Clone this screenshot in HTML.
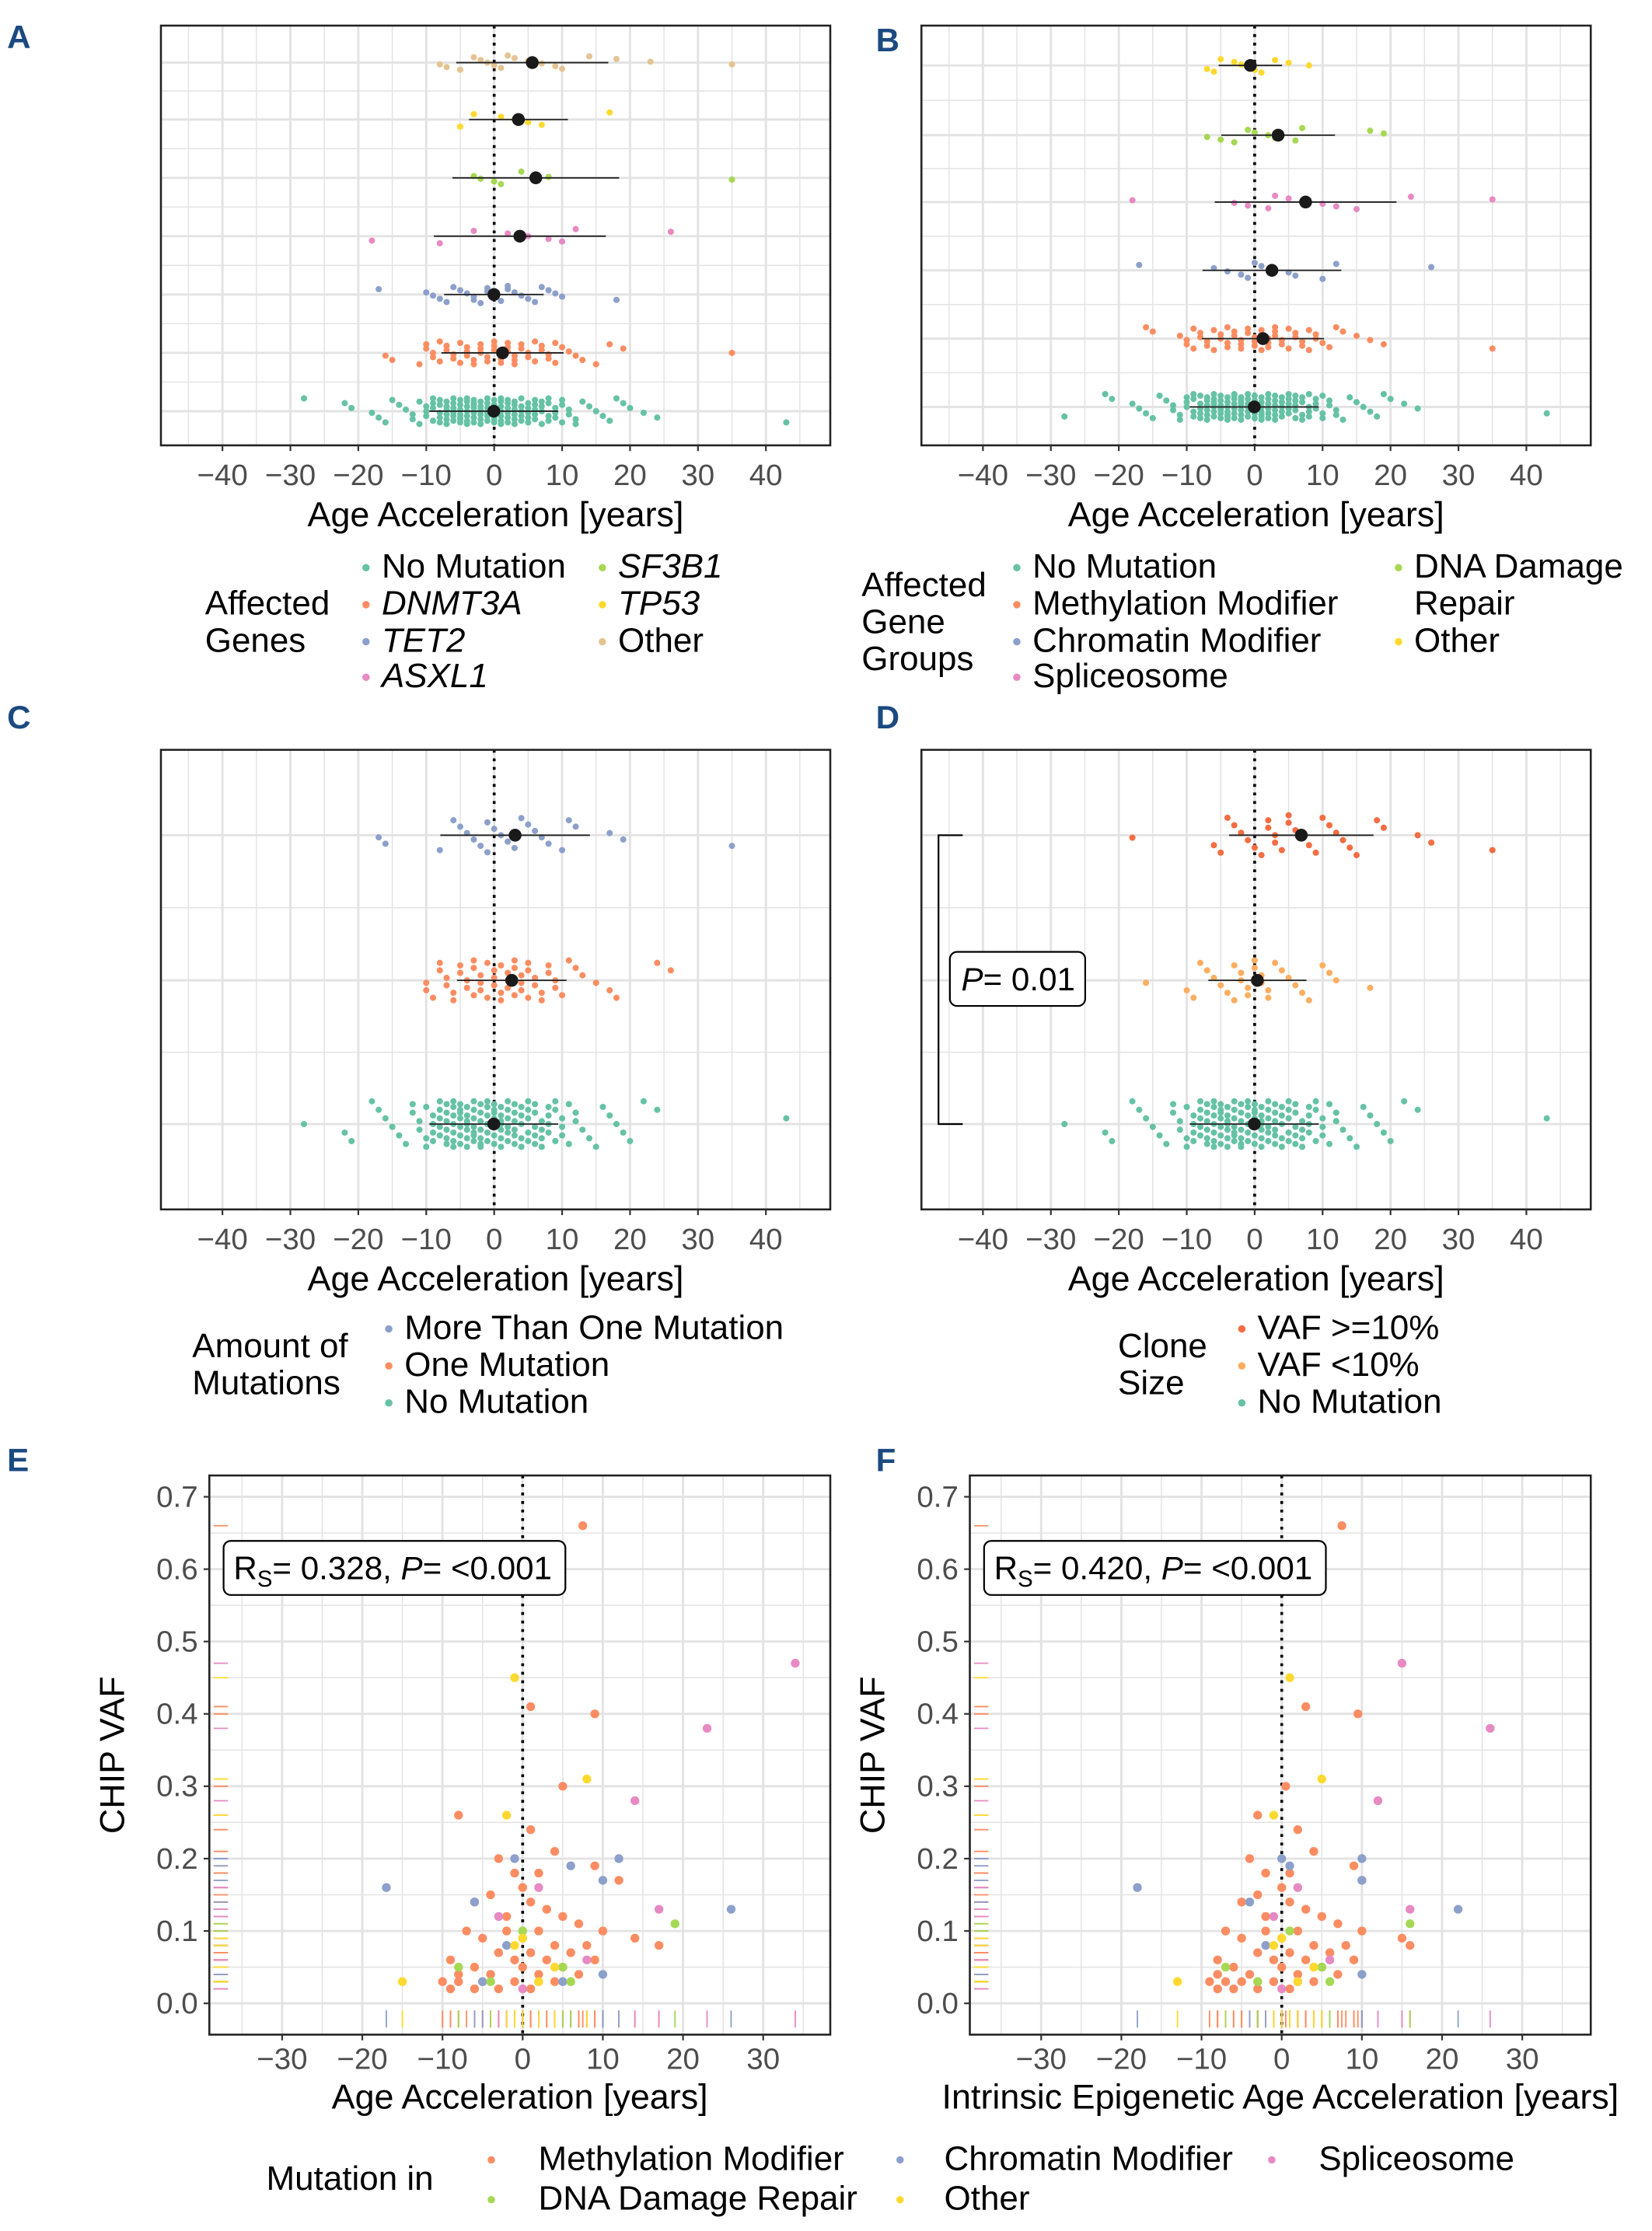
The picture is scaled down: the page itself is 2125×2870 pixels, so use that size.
<!DOCTYPE html>
<html><head><meta charset="utf-8"><style>
html,body{margin:0;padding:0;background:#fff;}
svg{display:block;font-family:"Liberation Sans",Arial,sans-serif;}
</style></head><body>
<svg id="fig" width="2125" height="2870" viewBox="0 0 1160 1568" preserveAspectRatio="none" xmlns="http://www.w3.org/2000/svg">
<g id="root"></g>
</svg>
<script>
// ---------- DATA ----------
const noMut = [-28,-22,-21,-18,-17,-16,-15,-14,-13,-12,-12,-11,-11,-10,-10,-10,-9,-9,-9,-9,-8,-8,-8,-8,-8,-7,-7,-7,-7,-7,-7,-6,-6,-6,-6,-6,-6,-6,-5,-5,-5,-5,-5,-5,-5,-4,-4,-4,-4,-4,-4,-4,-3,-3,-3,-3,-3,-3,-3,-2,-2,-2,-2,-2,-2,-2,-1,-1,-1,-1,-1,-1,0,0,0,0,0,0,0,1,1,1,1,1,1,1,2,2,2,2,2,2,3,3,3,3,3,3,4,4,4,4,4,5,5,5,5,5,6,6,6,6,6,7,7,7,7,8,8,8,8,9,9,9,10,10,10,11,11,12,12,13,14,15,16,17,18,19,20,22,24,43];
const dnmt3a = [-16,-15,-11,-10,-10,-9,-9,-8,-8,-7,-7,-6,-6,-5,-5,-4,-4,-4,-3,-3,-2,-2,-2,-1,-1,0,0,0,1,1,1,2,2,2,3,3,3,4,4,5,5,6,6,7,7,8,8,9,9,10,11,12,13,15,17,19,35];
const tet2 = [-17,-10,-9,-8,-7,-6,-5,-4,-3,-3,-2,-1,-1,0,0,1,2,2,3,4,5,6,7,8,9,10,18];
const asxl1 = [-18,-8,-3,2,5,8,10,12,26];
const sf3b1 = [-3,-2,0,1,4,6,8,35];
const tp53 = [-5,-3,1,3,5,7,17];
const otherG = [-8,-7,-5,-3,-2,-1,0,1,2,3,5,7,9,10,14,18,23,35];
const grpMeth = [-16,-15,-11,-10,-10,-9,-9,-8,-8,-7,-7,-6,-6,-5,-5,-4,-4,-4,-3,-3,-2,-2,-2,-1,-1,0,0,0,1,1,1,2,2,2,3,3,3,4,4,5,5,6,6,7,7,8,8,9,9,10,11,12,13,15,17,19,35];
const grpChrom = [-17,-6,-4,-2,-1,0,1,3,5,6,10,12,26];
const grpSplice = [-18,-3,-1,2,3,5,7,10,12,15,23,35];
const grpDNA = [-7,-5,-3,-1,0,2,3,6,7,17,19];
const grpOther = [-7,-6,-5,-3,-2,-1,0,1,3,5,8];
const moreOne = [-17,-16,-8,-6,-5,-4,-3,-2,-1,-1,0,1,2,3,4,5,6,7,8,10,11,12,17,19,35];
const oneMut = [-10,-10,-9,-8,-8,-7,-7,-6,-6,-5,-5,-4,-4,-3,-3,-3,-2,-2,-2,-1,-1,0,0,0,1,1,1,2,2,2,3,3,3,4,4,4,5,5,5,6,6,7,7,8,8,9,9,10,11,12,13,15,17,18,24,26];
const vafHigh = [-18,-6,-5,-4,-3,-2,-1,0,1,2,2,3,3,4,5,5,6,7,8,9,10,11,12,13,14,15,18,19,24,26,35];
const vafLow = [-16,-10,-9,-8,-7,-6,-5,-4,-3,-3,-2,-2,-1,-1,0,0,1,1,2,2,3,4,5,6,7,8,10,11,12,17];
// Panel E / F scatter
const eX = [7.5,1,9,5,-8,1,4,-3,-1,2,9,12,0,-4,-6,1,3,5,-2,7,-7,-2,2,10,14,-5,0,4,8,17,-3,1,6,-9,-1,3,9,-6,0,5,-8,-4,2,7,-10,-5,-1,4,-9,-6,-3,1,-8,2,
 -17,6,12,-1,10,26,-6,-2,10,-5,5,
 23,34,14,17,2,-3,0,8,
 19,0,-8,-4,5,6,
 -1,8,-2,-15,-1,4,2,0];
const fX = [7.5,3,9.5,0.5,-3,2,4,-4,-2,1,9,10,0,-3,-5,1,3,5,-2,7,-7,-2,2,10,15,-5,0,4,8,16,-3,1,6,-8,-1,3,9,-6,0,5,-8,-4,2,7,-9,-5,-1,4,-8,-6,-3,1,-7,2,
 -18,1,10,0,10,22,-4,-2,10,-3,2,
 26,15,12,16,2,-1,0,6,
 16,1,-7,-3,5,6,
 1,5,-1,-13,-1,4,2,0];
const eY = [0.66,0.41,0.40,0.30,0.26,0.24,0.21,0.20,0.18,0.18,0.19,0.17,0.16,0.15,0.14,0.14,0.13,0.12,0.12,0.11,0.10,0.10,0.10,0.10,0.09,0.09,0.09,0.08,0.08,0.08,0.07,0.07,0.07,0.06,0.06,0.06,0.06,0.05,0.05,0.05,0.04,0.04,0.04,0.04,0.03,0.03,0.03,0.03,0.02,0.02,0.02,0.02,0.03,0.03,
 0.16,0.19,0.20,0.20,0.17,0.13,0.14,0.08,0.04,0.03,0.03,
 0.38,0.47,0.28,0.13,0.16,0.12,0.02,0.06,
 0.11,0.10,0.05,0.03,0.05,0.03,
 0.45,0.31,0.26,0.03,0.08,0.05,0.03,0.09];
const eG = [];
for(let i=0;i<54;i++)eG.push('M');for(let i=0;i<11;i++)eG.push('C');for(let i=0;i<8;i++)eG.push('S');for(let i=0;i<6;i++)eG.push('D');for(let i=0;i<8;i++)eG.push('O');
const xTicks = [-40,-30,-20,-10,0,10,20,30,40];
const xTicksE = [-30,-20,-10,0,10,20,30];
const yTicksE = [0,0.1,0.2,0.3,0.4,0.5,0.6,0.7];

// ---------- HELPERS ----------
const NS="http://www.w3.org/2000/svg";
const root=document.getElementById('root');
function mk(tag,attrs,parent,text){const e=document.createElementNS(NS,tag);for(const k in attrs)e.setAttribute(k,attrs[k]);if(text!==undefined)e.textContent=text;(parent||root).appendChild(e);return e;}
const C={teal:'#66C2A5',orange:'#FC8D62',blue:'#8DA0CB',pink:'#E78AC3',green:'#A6D854',yellow:'#FFD92F',tan:'#E5C494',red:'#F46D43',lo:'#FDAE61'};
const GC={M:C.orange,C:C.blue,S:C.pink,D:C.green,O:C.yellow};
const GRID='#e3e3e3', FRAME='#222';
function mean(a){return a.reduce((s,v)=>s+v,0)/a.length;}
function sd(a){const m=mean(a);return Math.sqrt(a.reduce((s,v)=>s+(v-m)*(v-m),0)/(a.length-1));}

function jitterPanel(name,x0,x1,y0,y1,zeroX,rows){
  const g=mk('g',{},root);
  
  
  const sx=v=>zeroX+v*4.77;
  for(let v=-45;v<=45;v+=5){const X=sx(v);if(X<x0||X>x1)continue;mk('line',{x1:X,x2:X,y1:y0,y2:y1,stroke:GRID,'stroke-width':v%10===0?1.6:0.8},g);}
  rows.forEach((r,i)=>{mk('line',{x1:x0,x2:x1,y1:r.y,y2:r.y,stroke:GRID,'stroke-width':1.6},g);
    if(i<rows.length-1){const my=(r.y+rows[i+1].y)/2;mk('line',{x1:x0,x2:x1,y1:my,y2:my,stroke:GRID,'stroke-width':0.8},g);}});
  mk('line',{x1:sx(0),x2:sx(0),y1:y0,y2:y1,stroke:'#000','stroke-width':2,'stroke-dasharray':'2,4'},g);
  rows.forEach(r=>{
    r.vals.forEach((v,i)=>{const off=(((i*37+r.y)%17)-8)/8*r.j;
      const c=mk('circle',{cx:sx(v),cy:r.y+off,r:2.2,fill:r.color},g);
      
      });
    const m=mean(r.vals),s=sd(r.vals);
    mk('line',{x1:sx(m-s),x2:sx(m+s),y1:r.y,y2:r.y,stroke:'#222','stroke-width':1},g);
    const mc=mk('circle',{cx:sx(m),cy:r.y,r:4.5,fill:'#1a1a1a'},g);
    
    
  });
  mk('rect',{x:x0,y:y0,width:x1-x0,height:y1-y0,fill:'none',stroke:FRAME,'stroke-width':1.4},g);
  xTicks.forEach(t=>{const X=sx(t);mk('line',{x1:X,x2:X,y1:y1,y2:y1+4,stroke:'#333','stroke-width':1.2},g);
    const tx=mk('text',{x:X,y:y1+28,'font-size':21,'text-anchor':'middle',fill:'#4d4d4d'},g,(t<0?'\u2212'+(-t):''+t));
    });
  const at=mk('text',{x:(x0+x1)/2,y:y1+57,'font-size':24.5,'text-anchor':'middle',fill:'#000'},g,'Age Acceleration [years]');
  
}

function panelLetter(t,x,y){const e=mk('text',{x:x,y:y,'font-size':23,'font-weight':'bold',fill:'#1B4A80'},root,t);}
function legItem(x,y,color,label,italic,name){const g=mk('g',{},root);
  mk('circle',{cx:x,cy:y-7,r:2.6,fill:color},g);
  mk('text',{x:x+11,y:y,'font-size':24,'font-style':italic?'italic':'normal',fill:'#000'},g,label);}
function txt(x,y,s,name,size,anchor){const e=mk('text',{x:x,y:y,'font-size':size||24,'text-anchor':anchor||'start',fill:'#000'},root,s);return e;}

// ---------- PANELS A-D ----------
panelLetter('A',5,34);panelLetter('B',615,36);panelLetter('C',5,512);panelLetter('D',615,512);panelLetter('E',5,1034);panelLetter('F',615,1034);
jitterPanel('panel-a',113,583,18,313,347,[
 {vals:otherG,color:C.tan,y:44,j:5},{vals:tp53,color:C.yellow,y:84,j:5},{vals:sf3b1,color:C.green,y:125,j:5},
 {vals:asxl1,color:C.pink,y:166,j:5},{vals:tet2,color:C.blue,y:207,j:6},{vals:dnmt3a,color:C.orange,y:248,j:8},{vals:noMut,color:C.teal,y:289,j:9}]);
jitterPanel('panel-b',647,1117,18,313,881,[
 {vals:grpOther,color:C.yellow,y:46,j:5},{vals:grpDNA,color:C.green,y:95,j:5},{vals:grpSplice,color:C.pink,y:142,j:5},
 {vals:grpChrom,color:C.blue,y:190,j:6},{vals:grpMeth,color:C.orange,y:238,j:8},{vals:noMut,color:C.teal,y:286,j:9}]);
jitterPanel('panel-c',113,583,527,850,347,[
 {vals:moreOne,color:C.blue,y:587,j:12},{vals:oneMut,color:C.orange,y:689,j:14},{vals:noMut,color:C.teal,y:790,j:16}]);
jitterPanel('panel-d',647,1117,527,850,881,[
 {vals:vafHigh,color:C.red,y:587,j:14},{vals:vafLow,color:C.lo,y:689,j:14},{vals:noMut,color:C.teal,y:790,j:16}]);

// bracket in D
mk('path',{d:'M676,587 L659,587 L659,790 L676,790',fill:'none',stroke:'#000','stroke-width':1.2});
mk('rect',{x:667,y:669,width:95,height:38,rx:5,fill:'#fff',stroke:'#000','stroke-width':1.2});
const pt=mk('text',{x:675,y:696,'font-size':23},root);
mk('tspan',{'font-style':'italic'},pt,'P');mk('tspan',{},pt,'= 0.01');

// legends A-D
txt(144,432,'Affected','legend-title-a');txt(144,458,'Genes','legend-title-a2');
legItem(257,406,C.teal,'No Mutation',false,'legend-no-mutation');legItem(257,432,C.orange,'DNMT3A',true,'legend-dnmt3a');
legItem(257,458,C.blue,'TET2',true,'legend-tet2');legItem(257,483,C.pink,'ASXL1',true,'legend-asxl1');
legItem(423,406,C.green,'SF3B1',true,'legend-sf3b1');legItem(423,432,C.yellow,'TP53',true,'legend-tp53');legItem(423,458,C.tan,'Other',false,'legend-other');
txt(605,419,'Affected','legend-title-b');txt(605,445,'Gene','legend-title-b2');txt(605,471,'Groups','legend-title-b3');
legItem(714,406,C.teal,'No Mutation',false,'legend-no-mutation-b');legItem(714,432,C.orange,'Methylation Modifier',false,'legend-methylation');
legItem(714,458,C.blue,'Chromatin Modifier',false,'legend-chromatin');legItem(714,483,C.pink,'Spliceosome',false,'legend-spliceosome');
legItem(982,406,C.green,'DNA Damage',false,'legend-dna-damage');txt(993,432,'Repair','legend-dna-damage-2');legItem(982,458,C.yellow,'Other',false,'legend-other-b');
txt(135,954,'Amount of','legend-title-c');txt(135,980,'Mutations','legend-title-c2');
legItem(273,941,C.blue,'More Than One Mutation',false,'legend-more-one');legItem(273,967,C.orange,'One Mutation',false,'legend-one');legItem(273,993,C.teal,'No Mutation',false,'legend-no-mutation-c');
txt(785,954,'Clone','legend-title-d');txt(785,980,'Size','legend-title-d2');
legItem(872,941,C.red,'VAF >=10%',false,'legend-vaf-high');legItem(872,967,C.lo,'VAF <10%',false,'legend-vaf-low');legItem(872,993,C.teal,'No Mutation',false,'legend-no-mutation-d');

// ---------- PANELS E/F ----------
function scatterPanel(name,x0,x1,zeroX,xs,title,rs){
  const y0=1037,y1=1430,zeroY=1408,py=508.6;
  const g=mk('g',{},root);
  const sx=v=>zeroX+v*5.63, sy=v=>zeroY-v*py;
  for(let v=-35;v<=40;v+=5){const X=sx(v);if(X<x0||X>x1)continue;mk('line',{x1:X,x2:X,y1:y0,y2:y1,stroke:GRID,'stroke-width':v%10===0?1.6:0.8},g);}
  for(let v=0;v<=0.75;v+=0.05){const Y=sy(v);if(Y<y0)continue;const maj=Math.abs(Math.round(v*10)-v*10)<0.01;mk('line',{x1:x0,x2:x1,y1:Y,y2:Y,stroke:GRID,'stroke-width':maj?1.6:0.8},g);}
  mk('line',{x1:sx(0),x2:sx(0),y1:y0,y2:y1,stroke:'#000','stroke-width':2,'stroke-dasharray':'2,4'},g);
  xs.forEach((v,i)=>{const col=GC[eG[i]];
    mk('line',{x1:sx(v),x2:sx(v),y1:1413,y2:1425,stroke:col,'stroke-width':1},g);
    mk('line',{x1:x0+3,x2:x0+13,y1:sy(eY[i]),y2:sy(eY[i]),stroke:col,'stroke-width':1},g);
    const c=mk('circle',{cx:sx(v),cy:sy(eY[i]),r:3.1,fill:col},g);
    
    });
  mk('rect',{x:x0,y:y0,width:x1-x0,height:y1-y0,fill:'none',stroke:FRAME,'stroke-width':1.4},g);
  xTicksE.forEach(t=>{const X=sx(t);mk('line',{x1:X,x2:X,y1:y1,y2:y1+4,stroke:'#333','stroke-width':1.2},g);
    const tx=mk('text',{x:X,y:y1+24,'font-size':21,'text-anchor':'middle',fill:'#4d4d4d'},g,(t<0?'\u2212'+(-t):''+t));
    });
  yTicksE.forEach(t=>{const Y=sy(t);mk('line',{x1:x0-4,x2:x0,y1:Y,y2:Y,stroke:'#333','stroke-width':1.2},g);
    const tx=mk('text',{x:x0-8,y:Y+7,'font-size':21,'text-anchor':'end',fill:'#4d4d4d'},g,t.toFixed(1));
    });
  const at=mk('text',{x:(x0+x1)/2,y:1482,'font-size':24.5,'text-anchor':'middle'},g,title);
  const yt=mk('text',{x:0,y:0,'font-size':24.5,'text-anchor':'middle',transform:`translate(${x0-60},${(y0+y1)/2}) rotate(-90)`},g,'CHIP VAF');
  mk('rect',{x:x0+10,y:1083,width:240,height:38,rx:5,fill:'#fff',stroke:'#000','stroke-width':1.2},g);
  const st=mk('text',{x:x0+17,y:1110,'font-size':23},g);
  mk('tspan',{},st,'R');mk('tspan',{'font-size':16,dy:5},st,'S');mk('tspan',{dy:-5},st,'= '+rs+', ');mk('tspan',{'font-style':'italic'},st,'P');mk('tspan',{},st,'= <0.001');
}
scatterPanel('panel-e',147,583,367,eX,'Age Acceleration [years]','0.328');
scatterPanel('panel-f',681,1117,900,fX,'Intrinsic Epigenetic Age Acceleration [years]','0.420');

txt(187,1539,'Mutation in','legend-title-e');
legItem(345,1525,C.orange,'',false,'legend-e-methyl-dot');txt(378,1525,'Methylation Modifier','legend-methylation-e');
legItem(345,1553,C.green,'',false,'legend-e-dna-dot');txt(378,1553,'DNA Damage Repair','legend-dna-e');
legItem(632,1525,C.blue,'',false,'legend-e-chrom-dot');txt(663,1525,'Chromatin Modifier','legend-chromatin-e');
legItem(632,1553,C.yellow,'',false,'legend-e-other-dot');txt(663,1553,'Other','legend-other-e');
legItem(893,1525,C.pink,'',false,'legend-e-splice-dot');txt(926,1525,'Spliceosome','legend-spliceosome-e');
</script>
</body></html>
